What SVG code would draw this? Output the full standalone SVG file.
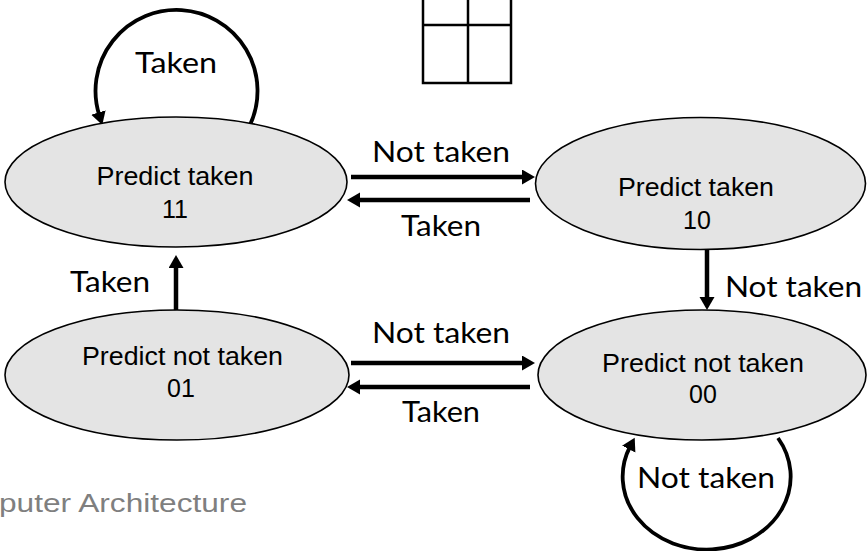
<svg xmlns="http://www.w3.org/2000/svg" width="867" height="551" viewBox="0 0 867 551">
<style>
.state{fill:#e4e4e4;stroke:#000;stroke-width:1.6}
.st{font-family:"Liberation Sans",Arial,sans-serif;font-size:25px;fill:#000;text-anchor:middle}
.lbl{font-family:Lato,"Liberation Sans",sans-serif;font-size:28px;fill:#000}
.arr{stroke:#000;stroke-width:4.5;fill:none}
.loop{stroke:#000;stroke-width:3.8;fill:none}
.grid{stroke:#000;stroke-width:2.5;fill:none}
.foot{font-family:"Liberation Sans",Arial,sans-serif;font-size:26px;fill:#7f7f7f}
</style>
<defs>
<marker id="ah" markerUnits="userSpaceOnUse" markerWidth="16" markerHeight="16" refX="3" refY="7.5" orient="auto">
<path d="M0,0 L13,7.5 L0,15 z" fill="#000"/>
</marker>
</defs>
<rect width="867" height="551" fill="#fff"/>
<g id="grid">
<rect class="grid" x="423" y="-5" width="88" height="88"/>
<line class="grid" x1="423" y1="25" x2="511" y2="25"/>
<line class="grid" x1="468" y1="-5" x2="468" y2="83"/>
</g>
<g id="connectors">
<path class="loop" d="M250,125 A81,81 0 1 0 99.3,115.4" marker-end="url(#ah)"/>
<path class="loop" d="M778,438 A84,73 0 1 1 630.1,446.5" marker-end="url(#ah)"/>
<line class="arr" x1="351" y1="177" x2="525" y2="177" marker-end="url(#ah)"/>
<line class="arr" x1="530" y1="200" x2="357" y2="200" marker-end="url(#ah)"/>
<line class="arr" x1="351" y1="363" x2="525" y2="363" marker-end="url(#ah)"/>
<line class="arr" x1="530" y1="387" x2="357" y2="387" marker-end="url(#ah)"/>
<line class="arr" x1="176" y1="313" x2="176" y2="265" marker-end="url(#ah)"/>
<line class="arr" x1="707" y1="250" x2="707" y2="300" marker-end="url(#ah)"/>
<text class="lbl" x="135" y="73" textLength="82" lengthAdjust="spacingAndGlyphs">Taken</text>
<text class="lbl" x="372" y="162" textLength="138" lengthAdjust="spacingAndGlyphs">Not taken</text>
<text class="lbl" x="401" y="236" textLength="80" lengthAdjust="spacingAndGlyphs">Taken</text>
<text class="lbl" x="70" y="292" textLength="80" lengthAdjust="spacingAndGlyphs">Taken</text>
<text class="lbl" x="725" y="297" textLength="137" lengthAdjust="spacingAndGlyphs">Not taken</text>
<text class="lbl" x="372" y="343" textLength="138" lengthAdjust="spacingAndGlyphs">Not taken</text>
<text class="lbl" x="402" y="422" textLength="78" lengthAdjust="spacingAndGlyphs">Taken</text>
<text class="lbl" x="637" y="488" textLength="138" lengthAdjust="spacingAndGlyphs">Not taken</text>
</g>
<g id="s11">
<ellipse class="state" cx="176" cy="182" rx="171" ry="65"/>
<text class="st" x="175" y="185" textLength="157" lengthAdjust="spacingAndGlyphs">Predict taken</text>
<text class="st" x="175" y="218">11</text>
</g>
<g id="s10">
<ellipse class="state" cx="700.5" cy="183.5" rx="165" ry="66"/>
<text class="st" x="696" y="196" textLength="156" lengthAdjust="spacingAndGlyphs">Predict taken</text>
<text class="st" x="697" y="229">10</text>
</g>
<g id="s01">
<ellipse class="state" cx="177" cy="375" rx="172" ry="65"/>
<text class="st" x="182.5" y="365" textLength="201" lengthAdjust="spacingAndGlyphs">Predict not taken</text>
<text class="st" x="181" y="397">01</text>
</g>
<g id="s00">
<ellipse class="state" cx="702" cy="375" rx="164" ry="65"/>
<text class="st" x="703" y="372" textLength="202" lengthAdjust="spacingAndGlyphs">Predict not taken</text>
<text class="st" x="703" y="403">00</text>
</g>
<text class="foot" x="-1" y="512" textLength="248" lengthAdjust="spacingAndGlyphs">puter Architecture</text>
</svg>
